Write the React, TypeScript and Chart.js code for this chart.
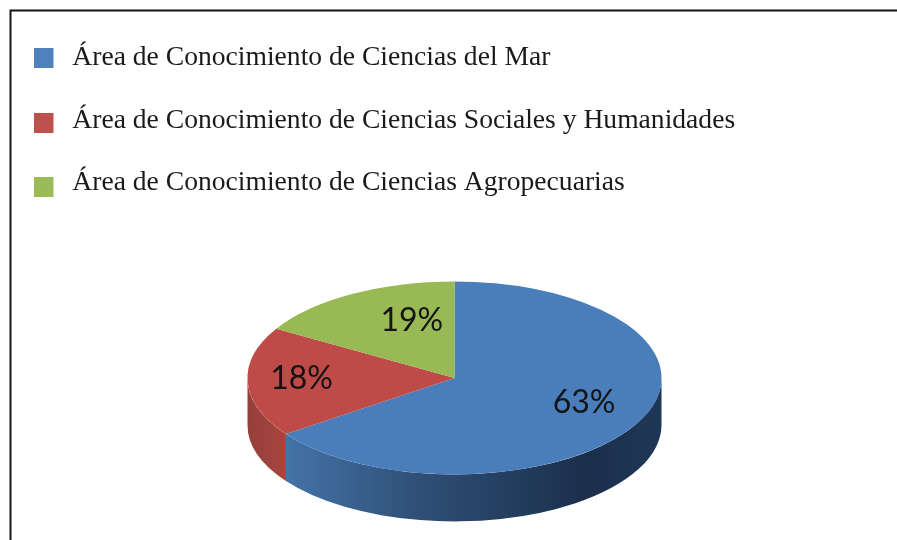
import React, { useEffect, useRef } from "react";
import { Chart, registerables } from "chart.js";

Chart.register(...registerables);

const categories = [
  "Área de Conocimiento de Ciencias del Mar",
  "Área de Conocimiento de Ciencias Sociales y Humanidades",
  "Área de Conocimiento de Ciencias Agropecuarias",
];
const shares = [63, 18, 19];
const sliceColors = ["#4a7ebb", "#be4b48", "#98b954"];
const legendColors = ["#4f81bd", "#c0504d", "#9bbb59"];

// Style constants for the tilted, extruded look.
const RX = 207;
const TILT = 96.5 / 207;
const DEPTH = 47;
const PERSPECTIVE = 0.84;
const PIE_DROP = 4.5;
const labelRadius = [0.65, 0.73, 0.63];
const labelNudge = [
  [10, -4],
  [-2, -2],
  [22, -4],
];
const legendDrop = [0, 2.5, 4];

// A tilted circle seen in perspective: the far side looks compressed.
function perspective(angle: number) {
  const t = angle + Math.PI / 2;
  const turns = Math.floor(t / (2 * Math.PI));
  const rem = t - turns * 2 * Math.PI;
  if (Math.abs(rem - Math.PI) < 1e-9 || rem === 0) return angle;
  let half = Math.atan(PERSPECTIVE * Math.tan(rem / 2));
  if (half < 0) half += Math.PI;
  return turns * 2 * Math.PI + 2 * half - Math.PI / 2;
}

function legendBox(color: string, drop: number) {
  const c = document.createElement("canvas");
  c.width = 25;
  c.height = 20 + Math.ceil(drop * 2);
  const g = c.getContext("2d")!;
  g.fillStyle = color;
  g.fillRect(0, c.height - 20, 20, 20);
  return c;
}

const tiltPlugin = {
  id: "tilt",
  beforeDraw(chart: any) {
    const { ctx } = chart;
    ctx.save();
    ctx.fillStyle = "#ffffff";
    ctx.fillRect(0, 0, chart.width, chart.height);
    ctx.strokeStyle = "#151515";
    ctx.lineWidth = 2;
    ctx.beginPath();
    ctx.moveTo(10.5, chart.height);
    ctx.lineTo(10.5, 10.5);
    ctx.lineTo(chart.width, 10.5);
    ctx.stroke();
    ctx.restore();
    if (chart.legend) chart.legend.left = 33.5 - chart.options.plugins.legend.labels.padding;
  },
  afterDatasetsUpdate(chart: any) {
    chart.getDatasetMeta(0).data.forEach((arc: any) => {
      arc.startAngle = perspective(arc.startAngle);
      arc.endAngle = perspective(arc.endAngle);
      arc.y += PIE_DROP;
    });
  },
  beforeDatasetDraw(chart: any) {
    const { ctx } = chart;
    const arcs = chart.getDatasetMeta(0).data;
    const x0 = arcs[0].x;
    const y0 = arcs[0].y;
    const ry = RX * TILT;
    arcs.forEach((arc: any, i: number) => {
      const a1 = Math.max(arc.startAngle, 0);
      const a2 = Math.min(arc.endAngle, Math.PI);
      if (a2 <= a1) return;
      const grad = ctx.createLinearGradient(x0 + RX * Math.cos(a2), 0, x0 + RX * Math.cos(a1), 0);
      if (i === 0) {
        grad.addColorStop(0, "#4473a8");
        grad.addColorStop(0.35, "#2f5076");
        grad.addColorStop(0.8, "#1b2f4c");
        grad.addColorStop(1, "#1f3757");
      } else {
        grad.addColorStop(0, "#94403c");
        grad.addColorStop(1, "#a8443f");
      }
      ctx.save();
      ctx.fillStyle = grad;
      ctx.beginPath();
      ctx.ellipse(x0, y0, RX, ry, 0, a1, a2);
      ctx.ellipse(x0, y0 + DEPTH, RX, ry, 0, a2, a1, true);
      ctx.closePath();
      ctx.fill();
      ctx.restore();
    });
    ctx.save();
    ctx.translate(x0, y0);
    ctx.scale(1, TILT);
    ctx.translate(-x0, -y0);
  },
  afterDatasetDraw(chart: any) {
    chart.ctx.restore();
  },
  afterDatasetsDraw(chart: any) {
    const { ctx } = chart;
    const arcs = chart.getDatasetMeta(0).data;
    ctx.save();
    ctx.font = "32px Lato";
    ctx.fillStyle = "#141414";
    ctx.textAlign = "center";
    ctx.textBaseline = "middle";
    arcs.forEach((arc: any, i: number) => {
      const mid = (arc.startAngle + arc.endAngle) / 2;
      const r = RX * labelRadius[i];
      ctx.fillText(
        shares[i] + "%",
        arc.x + r * Math.cos(mid) + labelNudge[i][0],
        arc.y + r * TILT * Math.sin(mid) + labelNudge[i][1]
      );
    });
    ctx.restore();
  },
};

export default function App() {
  const ref = useRef<HTMLCanvasElement>(null);
  useEffect(() => {
    document.body.style.margin = "0";
    const chart = new Chart(ref.current!, {
      type: "pie",
      data: {
        labels: categories,
        datasets: [
          {
            data: shares,
            backgroundColor: sliceColors,
            borderWidth: 0,
            clip: false,
          } as any,
        ],
      },
      options: {
        responsive: false,
        animation: false,
        radius: RX,
        layout: { padding: { left: 12, top: 9, bottom: 0 } },
        plugins: {
          tooltip: { enabled: false },
          legend: {
            position: "top",
            align: "start",
            labels: {
              padding: 35,
              usePointStyle: true,
              pointStyleWidth: 25,
              color: "#1a1a1a",
              font: { family: "'Liberation Serif'", size: 27.6 },
              generateLabels: (c: any) =>
                c.data.labels.map((text: string, i: number) => ({
                  text,
                  pointStyle: legendBox(legendColors[i], legendDrop[i]),
                  fontColor: "#1a1a1a",
                  lineWidth: 0,
                  hidden: false,
                  index: i,
                })),
            },
          },
        },
      } as any,
      plugins: [tiltPlugin],
    });
    return () => chart.destroy();
  }, []);
  return <canvas ref={ref} width={897} height={540} style={{ display: "block" }} />;
}
